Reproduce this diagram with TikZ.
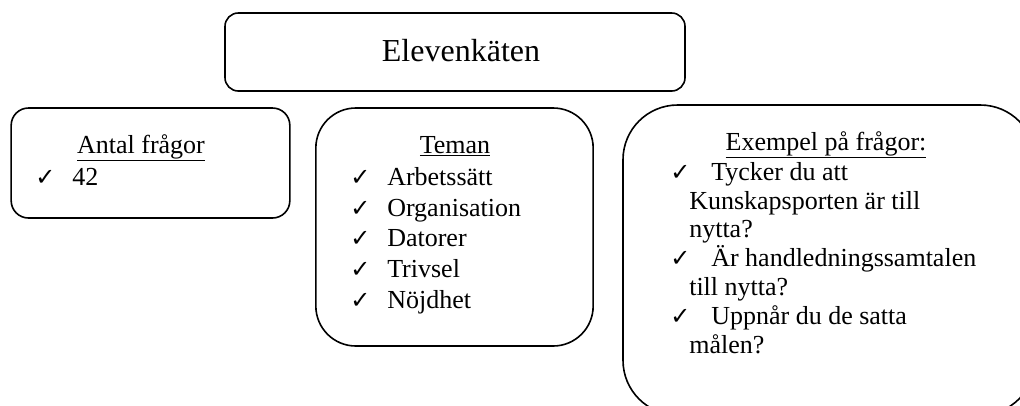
\documentclass[tikz,border=0pt]{standalone}
\usepackage{fontspec}
\setmainfont{Liberation Serif}
\newfontfamily\chkfont{DejaVu Sans}
\usetikzlibrary{positioning}
\newcommand{\chk}{{\chkfont\bfseries\fontsize{18pt}{18pt}\selectfont ✓}}
\newcommand{\ck}[1]{\makebox[#1][l]{\chk}}

\begin{document}
\begin{tikzpicture}[x=0.75pt, y=-0.75pt,
  box/.style={
    rectangle, draw=black, line width=1.2pt, inner sep=0pt
  },
  head/.style={
    font=\fontsize{19.5pt}{23pt}\selectfont, anchor=base, inner sep=0pt
  },
  items/.style={
    align=left, anchor=base west, inner sep=0pt
  }
]
  \clip (0,0) rectangle (1020,405);

  % Title box
  \node[box, rounded corners=10pt, minimum width=345pt, minimum height=58.5pt] (survey) at (455,52) {};
  \node[font=\fontsize{24pt}{28pt}\selectfont, anchor=base, inner sep=0pt] (surveytext) at (461,61) {Elevenkäten};

  % Three boxes below
  \node[box, rounded corners=13pt, minimum width=209pt, minimum height=82.5pt] (count) at (150.5,163) {};
  \node[box, rounded corners=30pt, minimum width=208pt, minimum height=178.5pt] (themes) at (454.5,227) {};
  \node[box, rounded corners=41pt, minimum width=309pt, minimum height=232.5pt] (examples) at (829,260) {};

  % Headings
  \node[head] (counthead)    at (141,153) {\underline{Antal frågor}};
  \node[head] (themeshead)   at (455,153) {\underline{Teman}};
  \node[head] (exampleshead) at (826,150) {\underline{Exempel på frågor:}};

  % Lists (base anchor sits on the last line)
  \node[items, font=\fontsize{19.5pt}{23pt}\selectfont] (countlist) at (35,185)
        {\ck{27.75pt}42};
  \node[items, font=\fontsize{19.5pt}{23pt}\selectfont] (themeslist) at (350,308)
        {\ck{27.75pt}Arbetssätt\\
         \ck{27.75pt}Organisation\\
         \ck{27.75pt}Datorer\\
         \ck{27.75pt}Trivsel\\
         \ck{27.75pt}Nöjdhet};
  \node[items, font=\fontsize{19.5pt}{21.6pt}\selectfont] (exampleslist) at (670,353)
        {\ck{30.75pt}Tycker du att\\
         \hspace*{14.25pt}Kunskapsporten är till\\
         \hspace*{14.25pt}nytta?\\
         \ck{30.75pt}Är handledningssamtalen\\
         \hspace*{14.25pt}till nytta?\\
         \ck{30.75pt}Uppnår du de satta\\
         \hspace*{14.25pt}målen?};
\end{tikzpicture}
\end{document}
